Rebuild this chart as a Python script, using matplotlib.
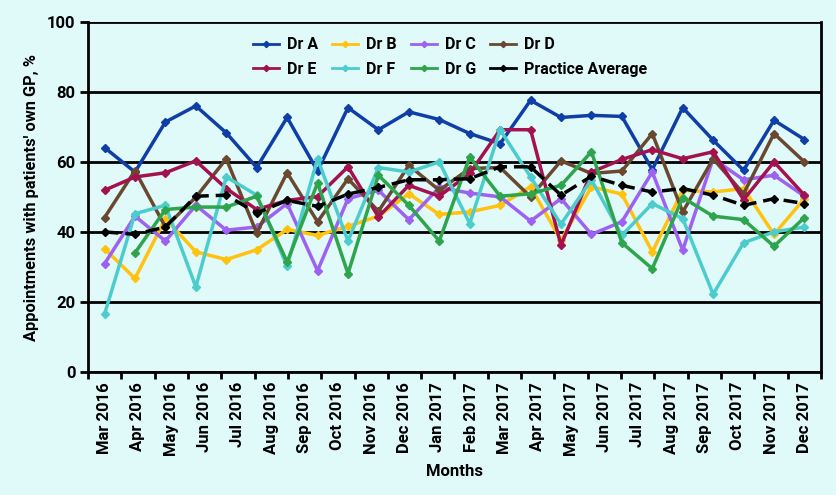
import matplotlib.pyplot as plt
import numpy as np

plt.rcParams["font.family"] = ["Roboto", "DejaVu Sans"]
plt.rcParams["font.weight"] = "bold"

months = ["Mar 2016", "Apr 2016", "May 2016", "Jun 2016", "Jul 2016", "Aug 2016",
          "Sep 2016", "Oct 2016", "Nov 2016", "Dec 2016", "Jan 2017", "Feb 2017",
          "Mar 2017", "Apr 2017", "May 2017", "Jun 2017", "Jul 2017", "Aug 2017",
          "Sep 2017", "Oct 2017", "Nov 2017", "Dec 2017"]

# 24 readings per series, spread evenly over the labelled months
dr_a = [64.2, 57.2, 71.5, 76.1, 68.4, 58.5, 72.8, 57.5, 75.6, 69.3, 74.4, 72.2,
        68.2, 65.3, 77.7, 72.8, 73.4, 73.1, 57.9, 75.6, 66.3, 57.7, 72.0, 66.5]
dr_b = [35.3, 26.8, 43.9, 34.4, 32.2, 35.0, 40.8, 39.1, 41.7, 44.6, 51.0, 45.1,
        45.8, 47.7, 53.0, 37.7, 53.0, 50.9, 34.4, 52.0, 51.5, 52.5, 39.4, 49.6]
dr_c = [31.0, 44.6, 37.5, 47.7, 40.6, 41.5, 48.2, 29.0, 49.6, 52.0, 43.6, 52.8,
        51.2, 50.1, 43.2, 49.6, 39.4, 43.0, 57.2, 34.9, 61.0, 55.0, 56.3, 50.3]
dr_d = [44.2, 57.6, 41.5, 50.0, 61.0, 39.8, 57.0, 43.0, 55.3, 46.0, 59.1, 52.0,
        58.2, 58.5, 50.1, 60.4, 56.8, 57.5, 68.2, 45.8, 61.0, 51.0, 68.2, 60.1]
dr_e = [52.0, 55.8, 57.0, 60.4, 52.5, 46.5, 49.1, 50.2, 58.7, 44.4, 53.4, 50.3,
        56.8, 69.3, 69.3, 36.3, 57.2, 60.8, 63.6, 61.0, 63.0, 49.3, 60.1, 50.6]
dr_f = [16.6, 45.3, 47.7, 24.4, 55.8, 50.6, 30.3, 61.0, 37.5, 58.5, 57.2, 60.1,
        42.5, 69.3, 55.8, 42.3, 55.0, 39.1, 48.2, 43.9, 22.3, 37.0, 40.1, 41.5]
dr_g = [np.nan, 34.1, 46.5, 47.2, 47.2, 50.3, 31.5, 54.1, 28.2, 56.3, 47.7, 37.5,
        61.5, 50.3, 51.0, 53.4, 63.0, 37.0, 29.6, 49.9, 44.6, 43.6, 36.0, 44.2]
average = [40.1, 39.4, 41.5, 50.3, 50.6, 45.5, 49.1, 47.4, 50.9, 52.8, 55.0, 55.0,
           55.3, 58.7, 58.7, 50.6, 56.0, 53.4, 51.5, 52.5, 50.6, 47.7, 49.6, 48.2]

series = [
    ("Dr A", dr_a, "#0f3fa6"),
    ("Dr B", dr_b, "#ffc20e"),
    ("Dr C", dr_c, "#9d62f0"),
    ("Dr D", dr_d, "#6a4830"),
    ("Dr E", dr_e, "#a3124f"),
    ("Dr F", dr_f, "#4ccccc"),
    ("Dr G", dr_g, "#2ea44c"),
]

bg = "#e0f9f9"
fig, ax = plt.subplots(figsize=(8.37, 4.95), dpi=100)
fig.patch.set_facecolor(bg)
ax.set_facecolor(bg)
fig.subplots_adjust(left=0.105, right=0.981, top=0.955, bottom=0.248)

xs = np.linspace(0, len(months) - 1, len(dr_a))

handles = {}
for name, vals, col in series:
    (h,) = ax.plot(xs, vals, color=col, lw=2.5, marker="D", ms=4.5,
                   label=name, zorder=3)
    handles[name] = h
(h,) = ax.plot(xs, average, color="black", lw=2.5, ls=(0, (4, 2)), marker="D",
               ms=4.5, label="Practice Average", zorder=4)
handles["Practice Average"] = h

ax.set_ylim(0, 100)
ax.set_yticks(np.arange(0, 101, 20))
ax.set_xlim(-0.5, len(months) - 0.5)
ax.set_xticks(np.arange(len(months)))
ax.set_xticklabels(months, rotation=90, fontsize=12, fontweight="bold")
ax.set_xticks(np.arange(-0.5, len(months)), minor=True)
ax.tick_params(axis="x", which="major", length=0, pad=7)
ax.tick_params(axis="x", which="minor", length=5, width=2, color="black")
ax.tick_params(axis="y", length=6, width=2, labelsize=12, pad=3)
for lab in ax.get_yticklabels():
    lab.set_fontweight("bold")

ax.yaxis.grid(True, color="black", lw=2)
ax.set_axisbelow(True)
for side in ["left", "bottom", "right"]:
    ax.spines[side].set_linewidth(2)
    ax.spines[side].set_color("black")
ax.spines["top"].set_visible(False)

ax.set_xlabel("Months", fontsize=12, fontweight="bold", labelpad=6)
ax.set_ylabel("Appointments with patients' own GP, %", fontsize=11.8,
              fontweight="bold", labelpad=6)

order = ["Dr A", "Dr E", "Dr B", "Dr F", "Dr C", "Dr G", "Dr D", "Practice Average"]
leg = ax.legend([handles[k] for k in order], order, ncol=4, loc="center",
                bbox_to_anchor=(0.494, 0.9), frameon=False, fontsize=11.5,
                handlelength=1.6, columnspacing=0.9, handletextpad=0.5,
                labelspacing=0.6, markerscale=0.7)
for line in leg.get_lines():
    line.set_linewidth(2.0)
    line.set_linestyle("-")

fig.savefig("out.png", dpi=100, facecolor=bg)
